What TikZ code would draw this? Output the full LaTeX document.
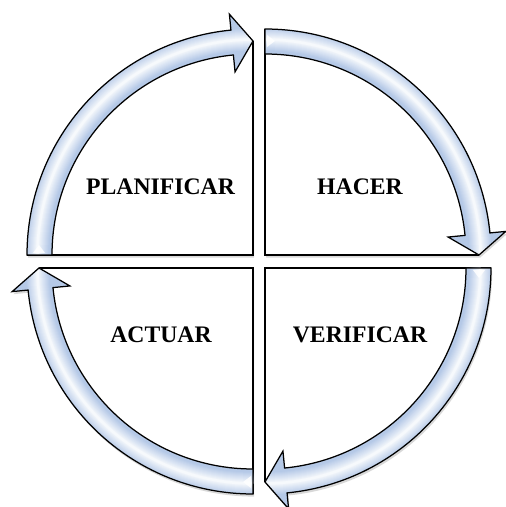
\documentclass[tikz,border=0pt]{standalone}
\usepackage{fontspec}
\setmainfont{Liberation Serif}
\usetikzlibrary{shadows}
\definecolor{arrowblue}{HTML}{B5C9E7}
\tikzset{
  quadfill/.style={fill=white, drop shadow={shadow xshift=1.2pt, shadow yshift=-2.6pt, opacity=0.3}},
  quadline/.style={draw=black, line width=1.25pt, line join=miter},
  arrowline/.style={draw=black, line width=1.25pt, line join=miter},
  quadtext/.style={font=\bfseries\fontsize{23.7}{28}\selectfont, text=black, inner sep=0pt}
}
\newcommand\arrowshape{(180:226) arc[start angle=180, end angle=95.6, radius=226] -- (95.6:242) -- (90:214) -- (95.6:184) -- (95.6:201) arc[start angle=95.6, end angle=180, radius=201] -- cycle}
\newcommand\quadrant[2]{%
  \begin{scope}[shift={#1}, rotate=#2]
    \path[quadfill] (0,0) -- (180:226) arc[start angle=180, end angle=95.6, radius=226] -- (95.6:242) -- (90:214) -- cycle;
    \draw[quadline] (90:214) -- (0,0) -- (180:226);
    \fill[arrowblue] \arrowshape;
    \begin{scope}
      \clip \arrowshape;
      \foreach \w/\p in {22/92, 20/84, 18/76, 16/68, 14/60, 12/52, 10/44, 8/36, 6/28, 4/20, 2.5/12} {
        \draw[arrowblue!\p!white, line width=\w pt] (180:215.5) arc[start angle=180, end angle=88, radius=215.5];
      }
    \end{scope}
    \fill[white, opacity=0.85] (-220,2) -- (-208,2) -- (-214,10) -- cycle;
    \draw[arrowline] \arrowshape;
  \end{scope}
}
\begin{document}
\begin{tikzpicture}[x=1pt, y=1pt]
  \clip (0,0) rectangle (506,507);
  \fill[white] (0,0) rectangle (506,507);
  \quadrant{(253,252)}{0}
  \quadrant{(265,252)}{-90}
  \quadrant{(265,239)}{-180}
  \quadrant{(253,239)}{-270}
  \node[quadtext] (plan) at (160.5,320) {PLANIFICAR};
  \node[quadtext] (hacer) at (360,320) {HACER};
  \node[quadtext] (verif) at (360,172) {VERIFICAR};
  \node[quadtext] (actuar) at (161,172) {ACTUAR};
\end{tikzpicture}
\end{document}
